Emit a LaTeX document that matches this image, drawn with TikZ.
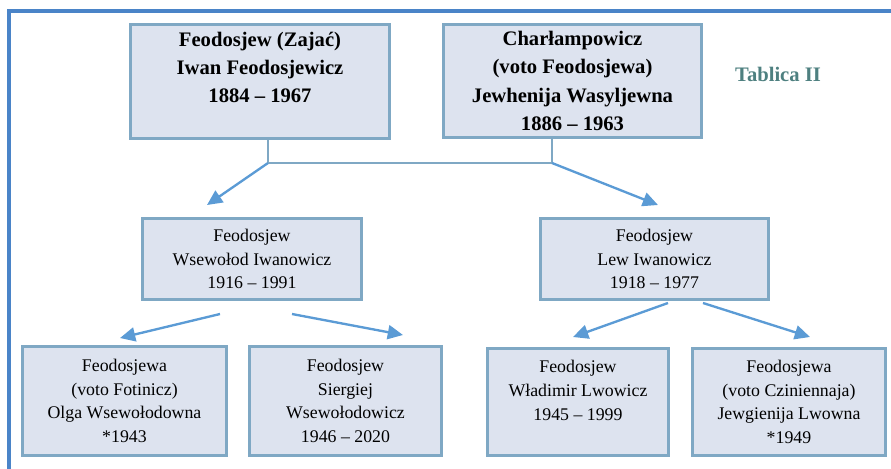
\documentclass[tikz,border=0pt]{standalone}
\usepackage{fontspec}
\setmainfont{Liberation Serif}
\usetikzlibrary{arrows.meta}
\definecolor{framecol}{HTML}{4A84C8}
\definecolor{boxline}{HTML}{7FA8C4}
\definecolor{boxfill}{HTML}{DDE3EF}
\definecolor{arrowcol}{HTML}{5B9BD5}
\definecolor{titlecol}{HTML}{4E8080}
\begin{document}
\begin{tikzpicture}[x=0.03cm, y=-0.03cm]
\tikzstyle{person}=[shape=rectangle, draw=boxline, fill=boxfill, line width=2.8pt, align=center, inner sep=0pt, font={\fontsize{15.2}{20.3}\selectfont}]
\tikzstyle{elder}=[person, font={\fontsize{17.6}{24.2}\selectfont\bfseries}]
\tikzstyle{descent}=[draw=arrowcol, line width=2pt, -{Triangle[length=13pt,width=12pt]}]
\tikzstyle{link}=[draw=boxline, line width=1.8pt]
\useasboundingbox (0,0) rectangle (891,468);
\clip (0,0) rectangle (891,468);
\draw[framecol, line width=2.6pt] (9,11) rectangle (905,480);
\node[elder, minimum width=7.78cm, minimum height=3.43cm] (IF) at (260,81.5) {Feodosjew (Zajać)\\ Iwan Feodosjewicz\\ 1884 – 1967\\ \mbox{}};
\node[elder, minimum width=7.75cm, minimum height=3.40cm] (JW) at (572.5,81) {Charłampowicz\\ (voto Feodosjewa)\\ Jewhenija Wasyljewna\\ 1886 – 1963};
\node[font={\fontsize{17.6}{24}\selectfont\bfseries}, text=titlecol] (T) at (778,74) {Tablica II};
\node[person, minimum width=6.58cm, minimum height=2.44cm] (WI) at (252,259) {Feodosjew\\ Wsewołod Iwanowicz\\ 1916 – 1991};
\node[person, minimum width=6.85cm, minimum height=2.44cm] (LI) at (654.5,259) {Feodosjew\\ Lew Iwanowicz\\ 1918 – 1977};
\node[person, minimum width=6.13cm, minimum height=3.28cm] (OW) at (124.5,401) {Feodosjewa\\ (voto Fotinicz)\\ Olga Wsewołodowna\\ *1943};
\node[person, minimum width=5.77cm, minimum height=3.28cm] (SW) at (345.5,401) {Feodosjew\\ Siergiej\\ Wsewołodowicz\\ 1946 – 2020};
\node[person, minimum width=5.44cm, minimum height=3.22cm] (WL) at (578,402) {Feodosjew\\ Władimir Lwowicz\\ 1945 – 1999\\ \mbox{}};
\node[person, minimum width=5.80cm, minimum height=3.22cm] (JL) at (789,402) {Feodosjewa\\ (voto Cziniennaja)\\ Jewgienija Lwowna\\ *1949};
% parents
\coordinate (J1) at (268,163);
\coordinate (J2) at (552,163);
\draw[link] (J1 |- IF.south) -- (J1) -- (J2) -- (J2 |- JW.south);
\coordinate (WItop) at (207,205);
\coordinate (LItop) at (658,205);
\draw[descent] (J1) -- (WItop);
\draw[descent] (J2) -- (LItop);
% children of Wsewolod
\coordinate (WIa) at (220,314);
\coordinate (WIb) at (292,314);
\coordinate (OWtop) at (120,338);
\coordinate (SWtop) at (403,335);
\draw[descent] (WIa) -- (OWtop);
\draw[descent] (WIb) -- (SWtop);
% children of Lew
\coordinate (LIa) at (668,303);
\coordinate (LIb) at (703,303);
\coordinate (WLtop) at (573,337);
\coordinate (JLtop) at (810,337);
\draw[descent] (LIa) -- (WLtop);
\draw[descent] (LIb) -- (JLtop);
\end{tikzpicture}
\end{document}
